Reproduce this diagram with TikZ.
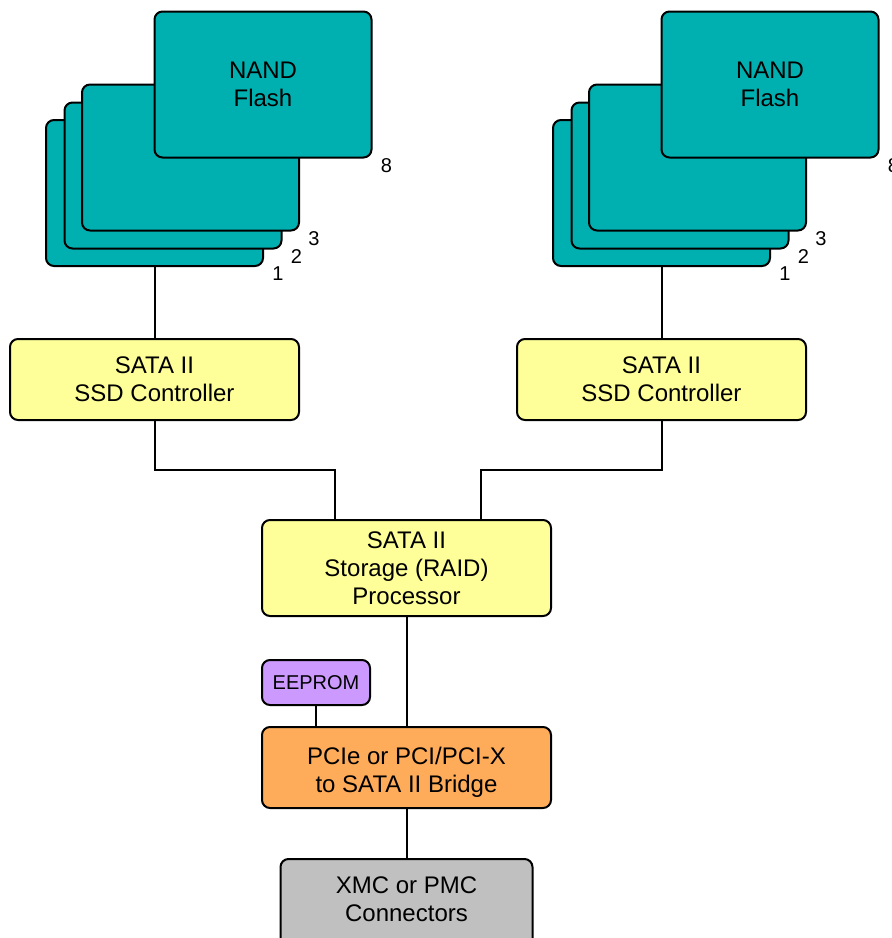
\documentclass[tikz,border=0pt]{standalone}
\usepackage{fontspec}
\setmainfont{Liberation Sans}
\usetikzlibrary{positioning}
\definecolor{sarcelle}{RGB}{0,175,175}
\definecolor{jaune}{RGB}{255,255,153}
\definecolor{orange}{RGB}{255,172,90}
\definecolor{mauve}{RGB}{204,153,255}
\definecolor{gris}{RGB}{192,192,192}
\tikzset{
  boite/.style={draw, line width=1pt, rounded corners=4pt, align=center,
    inner sep=0pt, font=\fontsize{12}{14}\selectfont},
  carte/.style={boite, fill=sarcelle, minimum width=108.5pt, minimum height=73pt},
  controleur/.style={boite, fill=jaune, minimum width=144.5pt, minimum height=40.5pt},
  texte/.style={font=\fontsize{12}{14}\selectfont, align=center},
  numero/.style={font=\fontsize{10}{11}\selectfont},
  lien/.style={line width=1pt}
}
\begin{document}
\begin{tikzpicture}[x=0.5pt,y=-0.5pt]
  \useasboundingbox (0,0) rectangle (891,938);
  % Piles de mémoire flash
  \foreach \p/\ox in {L/0, R/507}
  {
    \foreach \n/\dx/\dy in {1/0/0, 2/18.5/-17.5, 3/36/-35.5, 8/108.5/-108.5}
    {
      \node [carte] (c\p\n) at (154.5+\ox+\dx, 193+\dy) {};
      \node [numero] at ([shift={(14,7)}]c\p\n.south east) {\n};
    }
    \node [texte] at (c\p8) {NAND\\Flash};
  }
  % Contrôleurs
  \node [controleur] (ctlL) at (154.5,379.5) {SATA II\\SSD Controller};
  \node [controleur] (ctlR) at (661.5,379.5) {SATA II\\SSD Controller};
  \node [boite, fill=jaune, minimum width=144.5pt, minimum height=48pt]
    (proc) at (406.5,568) {SATA II\\Storage (RAID)\\Processor};
  \node [boite, fill=mauve, minimum width=54pt, minimum height=22.5pt,
    font=\fontsize{10}{12}\selectfont] (eeprom) at (316,682.5) {EEPROM};
  \node [boite, fill=orange, minimum width=144.5pt, minimum height=40.5pt]
    (pont) at (406.5,767.5) {};
  \node [texte] (ponttxt) at (406.5,772) {PCIe or PCI/PCI-X\\to SATA II Bridge};
  \node [boite, fill=gris, minimum width=126pt, minimum height=48pt]
    (xmc) at (406.5,907) {};
  \node [texte] (xmctxt) at (406.5,899) {XMC or PMC\\Connectors};
  % Liaisons
  \coordinate (jL) at (335,470);
  \coordinate (jR) at (481,470);
  \draw [lien] (cL1.south) -- (ctlL.north);
  \draw [lien] (cR1.south) -- (ctlR.north);
  \draw [lien] (ctlL.south) |- (jL) -- (jL |- proc.north);
  \draw [lien] (ctlR.south) |- (jR) -- (jR |- proc.north);
  \draw [lien] (proc.south) -- (pont.north);
  \draw [lien] (eeprom.south) -- (eeprom.south |- pont.north);
  \draw [lien] (pont.south) -- (xmc.north);
\end{tikzpicture}
\end{document}
